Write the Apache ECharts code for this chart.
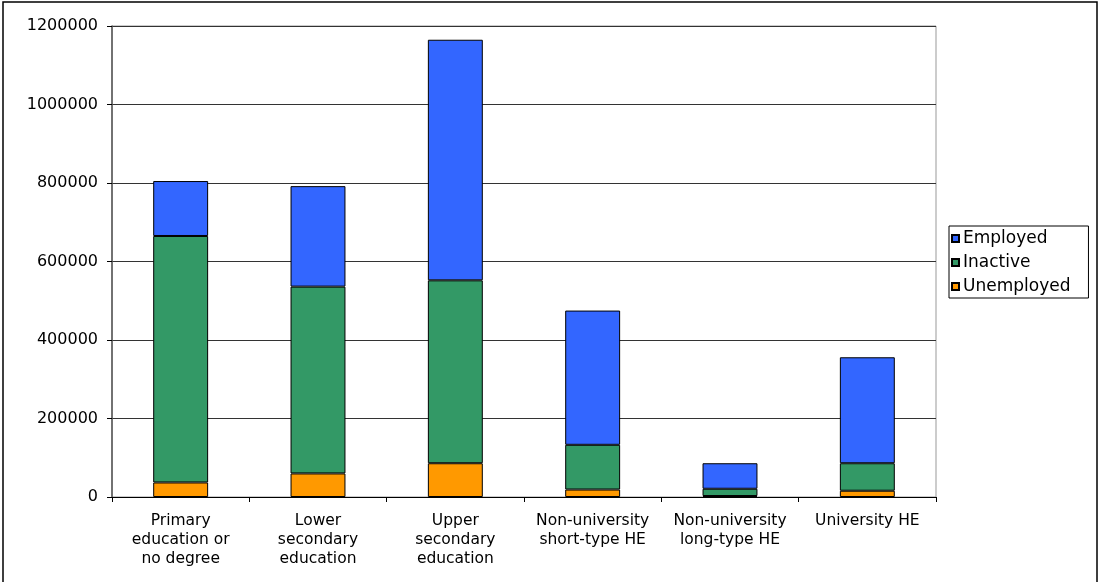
<!DOCTYPE html>
<html>
<head>
<meta charset="utf-8">
<title>Population by education level and labour status</title>
<script src="https://cdn.jsdelivr.net/npm/echarts@6/dist/echarts.min.js"></script>
<style>
  html, body { margin: 0; padding: 0; background: #fff; }
  #chart { width: 1098px; height: 582px; }
</style>
</head>
<body>
<div id="chart"></div>
<script>
// Education levels (x categories)
const categories = [
  'Primary\neducation or\nno degree',
  'Lower\nsecondary\neducation',
  'Upper\nsecondary\neducation',
  'Non-university\nshort-type HE',
  'Non-university\nlong-type HE',
  'University HE'
];

// Persons by labour status, stacked bottom to top
const unemployed = [37000, 60000, 86000, 19000, 2500, 16000];
const inactive   = [628000, 476000, 466000, 114000, 18500, 70000];
const employed   = [140000, 256000, 613000, 342000, 65000, 270000];

// Value axis range
const yMin = 0;
const yMax = 1200000;
const yStep = 200000;

const legendOrder = ['Employed', 'Inactive', 'Unemployed'];

const chart = echarts.init(document.getElementById('chart'), null, { renderer: 'canvas' });

const barStyle = (color) => ({
  color: color,
  borderColor: '#000',
  borderWidth: 1
});

chart.setOption({
  animation: false,
  backgroundColor: '#fff',
  graphic: [{
    type: 'rect',
    shape: { x: 3, y: 2, width: 1094, height: 640 },
    style: { fill: 'none', stroke: '#000', lineWidth: 1.5 },
    silent: true,
    z: -10
  }],
  grid: {
    left: 112,
    right: 162,
    top: 26,
    bottom: 85,
    show: true,
    borderColor: '#999',
    borderWidth: 1
  },
  legend: {
    data: legendOrder,
    orient: 'vertical',
    left: 949,
    top: 226,
    itemWidth: 7,
    itemHeight: 7,
    itemGap: 7,
    padding: [4, 18, 3, 2],
    borderColor: '#000',
    borderWidth: 1,
    icon: 'rect',
    textStyle: {
      fontFamily: 'DejaVu Sans',
      fontSize: 17,
      color: '#000',
      padding: [0, 0, 0, -1]
    }
  },
  xAxis: {
    type: 'category',
    data: categories,
    axisLine: { show: true, lineStyle: { color: '#000', width: 1 } },
    axisTick: { show: true, length: 5, lineStyle: { color: '#000' } },
    axisLabel: {
      fontFamily: 'DejaVu Sans',
      fontSize: 15.5,
      color: '#000',
      lineHeight: 19,
      margin: 14,
      interval: 0,
      align: 'center'
    },
    splitLine: { show: false }
  },
  yAxis: {
    type: 'value',
    min: yMin,
    max: yMax,
    interval: yStep,
    axisLine: { show: true, lineStyle: { color: '#555', width: 1.5 } },
    axisTick: { show: true, length: 5, lineStyle: { color: '#000' } },
    axisLabel: {
      fontFamily: 'DejaVu Sans',
      fontSize: 16,
      color: '#000',
      margin: 14,
      formatter: (v) => String(v)
    },
    splitLine: { show: true, lineStyle: { color: '#333', width: 1 } }
  },
  series: [
    {
      name: 'Unemployed',
      type: 'bar',
      stack: 'total',
      barWidth: '40%',
      data: unemployed,
      itemStyle: barStyle('#FF9900')
    },
    {
      name: 'Inactive',
      type: 'bar',
      stack: 'total',
      barWidth: '40%',
      data: inactive,
      itemStyle: barStyle('#339966')
    },
    {
      name: 'Employed',
      type: 'bar',
      stack: 'total',
      barWidth: '40%',
      data: employed,
      itemStyle: barStyle('#3366FF')
    }
  ]
});
</script>
</body>
</html>
